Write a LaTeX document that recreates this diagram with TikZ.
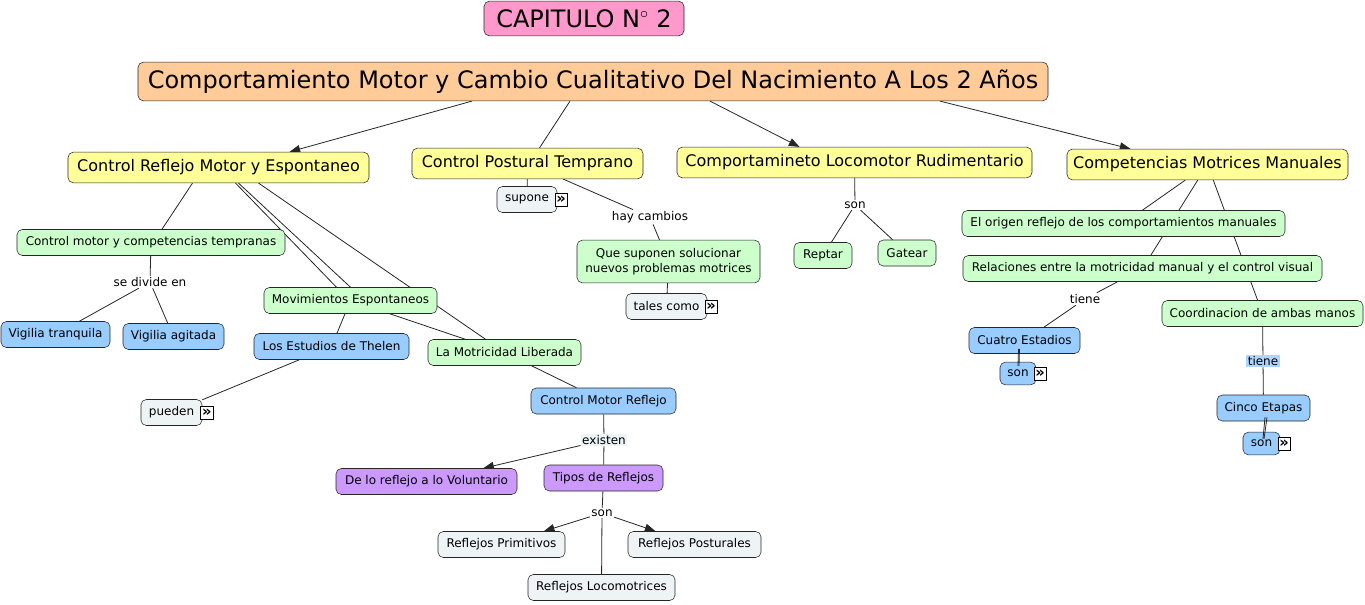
\documentclass[tikz,border=0pt]{standalone}
\usepackage{fontspec}
\setmainfont{DejaVu Sans}
\usetikzlibrary{arrows.meta,positioning,backgrounds,calc}

\definecolor{cPink}{HTML}{FF99CC}
\definecolor{cOrange}{HTML}{FFCC99}
\definecolor{cYellow}{HTML}{FFFF99}
\definecolor{cGreen}{HTML}{CCFFCC}
\definecolor{cBlue}{HTML}{99CCFF}
\definecolor{cPurple}{HTML}{CC99FF}
\definecolor{cGrey}{HTML}{EEF3F6}

\begin{document}
\begin{tikzpicture}[x=0.75pt,y=-0.75pt,
    box/.style={draw=black!85, rounded corners=4pt, inner sep=1pt, align=center,
      minimum height=19.5pt, font=\fontsize{9}{11}\selectfont},
    wd/.style={minimum width={#1*0.75pt}},
    big/.style={box, fill=cYellow, minimum height=23pt, font=\fontsize{12}{14}\selectfont},
    grn/.style={box, fill=cGreen},
    blu/.style={box, fill=cBlue},
    pur/.style={box, fill=cPurple},
    gry/.style={box, fill=cGrey},
    lbl/.style={fill=white, inner sep=1pt, font=\fontsize{9}{11}\selectfont},
    res/.style={draw, fill=white, inner sep=0pt, minimum size=9.5pt, text height=6pt, text depth=0pt,
      font=\fontsize{11}{11}\selectfont\bfseries},
    link/.style={draw=black!85, line width=0.6pt},
    arr/.style={link, -{Triangle[length=8pt,width=6pt]}}]
  \useasboundingbox (0,0) rectangle (1365,604);

  % titles
  \node[box, fill=cPink, wd=200, minimum height=26pt, font=\fontsize{18}{20}\selectfont] (cap) at (584,18.5) {CAPITULO N$^\circ$ 2};
  \node[box, fill=cOrange, wd=910, minimum height=29pt, font=\fontsize{18}{20}\selectfont] (main) at (593,81.5)
    {Comportamiento Motor y Cambio Cualitativo Del Nacimiento A Los 2 Años};

  \node[big, wd=301] (crme) at (218.5,167.5) {Control Reflejo Motor y Espontaneo};
  \node[big, wd=231] (cpt) at (527.5,163.5) {Control Postural Temprano};
  \node[big, wd=355] (clr) at (854.5,162.5) {Comportamineto Locomotor Rudimentario};
  \node[big, wd=281] (cmm) at (1207.5,164.5) {Competencias Motrices Manuales};

  % reflejo motor y espontaneo
  \node[grn, wd=268] (cmct) at (151,242.5) {Control motor y competencias tempranas};
  \node[lbl] (divide) at (150,282) {se divide en};
  \node[blu, wd=109] (vt) at (55.5,334.5) {Vigilia tranquila};
  \node[blu, wd=101] (va) at (173.5,336.5) {Vigilia agitada};
  \node[grn, wd=173] (me) at (350.5,300.5) {Movimientos Espontaneos};
  \node[blu, wd=155] (thelen) at (331.5,346.5) {Los Estudios de Thelen};
  \node[grn, wd=153] (mlib) at (504.5,352.5) {La Motricidad Liberada};
  \node[gry, wd=61] (pueden) at (171.5,412.5) {pueden};
  \node[res, right=-1.5pt of pueden] (pueden-i) {»};

  % postural
  \node[gry, wd=60] (supone) at (527,199.5) {supone};
  \node[res, right=-2pt of supone] (supone-i) {»};
  \node[lbl] (cambios) at (650,217) {hay cambios};
  \node[grn, wd=183, minimum height=32pt] (nuevos) at (668.5,261.5) {Que suponen solucionar\\nuevos problemas motrices};
  \node[gry, wd=81] (tales) at (666.5,306.5) {tales como};
  \node[res, right=-2pt of tales] (tales-i) {»};

  % locomotor
  \node[lbl] (sonL) at (855,205) {son};
  \node[grn, wd=58] (reptar) at (823,255.5) {Reptar};
  \node[grn, wd=58] (gatear) at (907,253) {Gatear};

  % manuales
  \node[grn, wd=323] (origen) at (1123.5,223.5) {El origen reflejo de los comportamientos manuales};
  \node[grn, wd=359] (relac) at (1142.5,268.5) {Relaciones entre la motricidad manual y el control visual};
  \node[lbl] (tieneA) at (1085,299) {tiene};
  \node[grn, wd=201] (coord) at (1262.5,313.5) {Coordinacion de ambas manos};
  \node[blu, wd=111] (cuatro) at (1024.5,340.5) {Cuatro Estadios};
  \node[blu, wd=36, minimum height=17pt] (sonA) at (1018,373.5) {son};
  \node[res, right=-2pt of sonA] (sonA-i) {»};
  \node[lbl, fill=cBlue!80] (tieneB) at (1263,361) {tiene};
  \node[blu, wd=93] (cinco) at (1263.5,408) {Cinco Etapas};
  \node[blu, wd=37, minimum height=17pt] (sonB) at (1261.5,443.5) {son};
  \node[res, right=-2pt of sonB] (sonB-i) {»};

  % reflejos
  \node[blu, wd=145] (cmr) at (603.5,401) {Control Motor Reflejo};
  \node[lbl, fill=cGrey] (existen) at (604,440) {existen};
  \node[pur, wd=181] (volunt) at (426.5,481.5) {De lo reflejo a lo Voluntario};
  \node[pur, wd=119] (tipos) at (603.5,478) {Tipos de Reflejos};
  \node[lbl] (sonR) at (602,513) {son};
  \node[gry, wd=127] (primit) at (501.5,544.5) {Reflejos Primitivos};
  \node[gry, wd=133] (postur) at (694.5,544.5) {Reflejos Posturales};
  \node[gry, wd=147] (locom) at (601.5,587.5) {Reflejos Locomotrices};

  \begin{scope}[on background layer]
    \fill[white] (0,0) rectangle (1365,604);
    \draw[arr] ($(main.south)+(-121,0)$) -- ($(crme.north)+(71,0)$);
    \draw[link] ($(main.south)+(-23,0)$) -- ($(cpt.north)+(12,0)$);
    \draw[arr] ($(main.south)+(117,0)$) -- ($(clr.north)+(-55,0)$);
    \draw[arr] ($(main.south)+(347,0)$) -- ($(cmm.north)+(-77,0)$);
    \draw[link] ($(crme.south)+(-26,0)$) -- ($(cmct.north)+(11,0)$);
    \draw[link] ($(crme.south)+(17,0)$) -- ($(me.north)+(-14,0)$);
    \draw[link] ($(crme.south)+(20,0)$) -- (me.north);
    \draw[link] ($(crme.south)+(40,0)$) -- ($(mlib.north)+(-19,0)$);
    \foreach \a/\b in {cmct/divide, divide/vt, divide/va, me/thelen, me/mlib, thelen/pueden,
        mlib/cmr, cpt/supone, cpt/cambios, cambios/nuevos, nuevos/tales, clr/sonL,
        sonL/reptar, sonL/gatear, cmm/origen, cmm/relac, cmm/coord, relac/tieneA,
        tieneA/cuatro, coord/tieneB, tieneB/cinco, cmr/existen, existen/tipos,
        tipos/sonR, sonR/locom}
      \draw[link] (\a) -- (\b);
    \foreach \a/\b in {existen/volunt, sonR/primit, sonR/postur}
      \draw[arr] (\a) -- (\b);
  \end{scope}

  % short double links drawn over the boxes
  \draw[link] ($(cuatro.south)+(-6,-5)$) -- ($(sonA.north)+(0,4)$);
  \draw[link] ($(cuatro.south)+(-5,-5)$) -- ($(sonA.north)+(1,4)$);
  \draw[link] ($(cinco.south)+(1.5,-4)$) -- ($(sonB.north)+(1.5,7)$);
  \draw[link] ($(cinco.south)+(3.5,-4)$) -- ($(sonB.north)+(2.5,7)$);
\end{tikzpicture}
\end{document}
